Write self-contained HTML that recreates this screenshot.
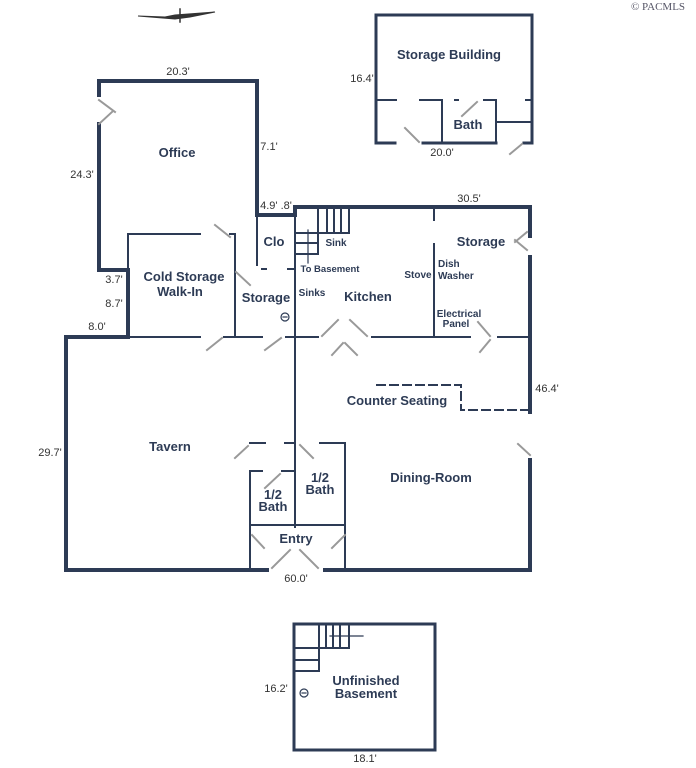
<!DOCTYPE html>
<html><head><meta charset="utf-8"><style>
html,body{margin:0;padding:0;background:#fff;}
svg{display:block;}
text{font-family:"Liberation Sans",Arial,sans-serif;fill:#2d3b55;font-weight:bold;}
.d{font-weight:normal;font-size:11px;fill:#333;}
</style></head><body>
<svg width="696" height="768" viewBox="0 0 696 768" xmlns="http://www.w3.org/2000/svg">
<g stroke="#2d3b55" fill="none" stroke-linecap="square">
<path d="M138 16 L165 17 L175 15 L215 12 L190 17 L175 19 Z" fill="#333" stroke="#333" stroke-width="1"/>
<line x1="180" y1="9" x2="180" y2="22" stroke="#333" stroke-width="1.5"/>
<g stroke-width="4">
<polyline points="99,95 99,81 257,81 257,215 295,215 295,207 530,207 530,236"/>
<polyline points="99,124 99,270 128,270 128,337 66,337 66,570 267,570"/>
<polyline points="325,570 530,570 530,460"/>
<line x1="530" y1="257" x2="530" y2="412"/>
</g>
<g stroke-width="2">
<line x1="128" y1="234" x2="128" y2="270"/>
<line x1="128" y1="234" x2="200" y2="234"/>
<line x1="230" y1="234" x2="235" y2="234"/>
<line x1="235" y1="234" x2="235" y2="337"/>
<line x1="257" y1="215" x2="257" y2="265"/>
<line x1="262" y1="269" x2="266" y2="269"/><line x1="288" y1="269" x2="295" y2="269"/>
<line x1="295" y1="215" x2="295" y2="527"/>
<line x1="128" y1="337" x2="200" y2="337"/>
<line x1="224" y1="337" x2="262" y2="337"/>
<line x1="286" y1="337" x2="318" y2="337"/>
<line x1="372" y1="337" x2="470" y2="337"/>
<line x1="498" y1="337" x2="530" y2="337"/>
<line x1="434" y1="244" x2="434" y2="337"/>
<line x1="434" y1="207" x2="434" y2="220"/>
<line x1="318" y1="207" x2="318" y2="254"/>
<line x1="295" y1="233" x2="318" y2="233"/><line x1="295" y1="243" x2="318" y2="243"/><line x1="295" y1="254" x2="318" y2="254"/>
<line x1="318" y1="233" x2="349" y2="233"/>
<line x1="327" y1="207" x2="327" y2="233"/><line x1="334" y1="207" x2="334" y2="233"/><line x1="341" y1="207" x2="341" y2="233"/><line x1="349" y1="207" x2="349" y2="233"/>
<line x1="308" y1="230" x2="308" y2="263" stroke-width="1.2"/>
<line x1="250" y1="443" x2="265" y2="443"/><line x1="285" y1="443" x2="295" y2="443"/>
<line x1="320" y1="443" x2="345" y2="443"/>
<line x1="345" y1="443" x2="345" y2="570"/>
<line x1="250" y1="471" x2="262" y2="471"/><line x1="282" y1="471" x2="295" y2="471"/>
<line x1="250" y1="471" x2="250" y2="570"/>
<line x1="250" y1="525" x2="345" y2="525"/>
</g>
<g stroke-width="2" stroke-dasharray="8,5">
<polyline points="377,385 461,385 461,410 528,410"/>
</g>
<g stroke="#999" stroke-width="2">
<line x1="99" y1="100" x2="115" y2="112"/><line x1="99" y1="124" x2="112" y2="112"/>
<line x1="215" y1="225" x2="230" y2="237"/>
<line x1="236" y1="272" x2="250" y2="285"/>
<line x1="207" y1="350" x2="222" y2="338"/>
<line x1="265" y1="350" x2="281" y2="338"/>
<line x1="322" y1="336" x2="338" y2="320"/><line x1="350" y1="320" x2="367" y2="336"/>
<line x1="332" y1="355" x2="343" y2="343"/><line x1="345" y1="343" x2="357" y2="355"/>
<line x1="515" y1="240" x2="527" y2="250"/><line x1="515" y1="242" x2="527" y2="232"/>
<line x1="478" y1="322" x2="490" y2="336"/><line x1="480" y1="352" x2="490" y2="340"/>
<line x1="518" y1="444" x2="530" y2="455"/>
<line x1="235" y1="458" x2="248" y2="446"/>
<line x1="265" y1="488" x2="280" y2="474"/>
<line x1="300" y1="445" x2="313" y2="458"/>
<line x1="252" y1="535" x2="264" y2="548"/>
<line x1="332" y1="548" x2="345" y2="535"/>
<line x1="272" y1="568" x2="290" y2="550"/><line x1="300" y1="550" x2="318" y2="568"/>
</g>
<g stroke-width="3">
<polyline points="376,100 376,15 532,15 532,143 524,143"/>
<polyline points="376,100 376,143 395,143"/>
<line x1="423" y1="143" x2="496" y2="143"/>
</g>
<g stroke-width="2">
<line x1="376" y1="100" x2="396" y2="100"/><line x1="420" y1="100" x2="442" y2="100"/>
<line x1="442" y1="100" x2="442" y2="143"/>
<line x1="455" y1="100" x2="458" y2="100"/><line x1="484" y1="100" x2="496" y2="100"/>
<line x1="496" y1="100" x2="496" y2="143"/>
<line x1="496" y1="122" x2="532" y2="122"/>
<line x1="526" y1="100" x2="532" y2="100"/>
</g>
<g stroke="#999" stroke-width="2">
<line x1="405" y1="128" x2="419" y2="142"/>
<line x1="462" y1="116" x2="477" y2="102"/>
<line x1="510" y1="154" x2="522" y2="144"/>
</g>
<rect x="294" y="624" width="141" height="126" stroke-width="3"/>
<g stroke-width="2">
<line x1="319" y1="624" x2="319" y2="671"/>
<line x1="294" y1="648" x2="319" y2="648"/><line x1="294" y1="660" x2="319" y2="660"/><line x1="294" y1="671" x2="319" y2="671"/>
<line x1="319" y1="648" x2="349" y2="648"/>
<line x1="326" y1="624" x2="326" y2="648"/><line x1="333" y1="624" x2="333" y2="648"/><line x1="340" y1="624" x2="340" y2="648"/><line x1="349" y1="624" x2="349" y2="648"/>
<line x1="330" y1="636" x2="363" y2="636" stroke-width="1.2"/>
</g>
<circle cx="304" cy="693" r="4" stroke-width="1.2"/><line x1="302" y1="693" x2="306" y2="693" stroke-width="1.2"/>
<circle cx="285" cy="317" r="4" stroke-width="1.2"/><line x1="283" y1="317" x2="287" y2="317" stroke-width="1.2"/>
</g>
<text x="658" y="10" text-anchor="middle" style="font-family:'Liberation Serif',serif;font-size:11px;font-weight:normal;fill:#556">© PACMLS</text>
<text x="449" y="59" text-anchor="middle" font-size="13">Storage Building</text>
<text x="468" y="129" text-anchor="middle" font-size="13">Bath</text>
<text class="d" x="362" y="82" text-anchor="middle">16.4'</text>
<text class="d" x="442" y="156" text-anchor="middle">20.0'</text>
<text class="d" x="178" y="75" text-anchor="middle">20.3'</text>
<text x="177" y="157" text-anchor="middle" font-size="13">Office</text>
<text class="d" x="82" y="178" text-anchor="middle">24.3'</text>
<text class="d" x="269" y="150" text-anchor="middle">7.1'</text>
<text class="d" x="276" y="209" text-anchor="middle">4.9' .8'</text>
<text class="d" x="469" y="202" text-anchor="middle">30.5'</text>
<text x="274" y="246" text-anchor="middle" font-size="13">Clo</text>
<text x="336" y="246" text-anchor="middle" font-size="10">Sink</text>
<text x="330" y="272" text-anchor="middle" font-size="9.5">To Basement</text>
<text x="481" y="246" text-anchor="middle" font-size="13">Storage</text>
<text x="418" y="278" text-anchor="middle" font-size="10">Stove</text>
<text x="438" y="267" font-size="10">Dish</text>
<text x="438" y="279" font-size="10">Washer</text>
<text x="184" y="281" text-anchor="middle" font-size="13">Cold Storage</text>
<text x="180" y="296" text-anchor="middle" font-size="13">Walk-In</text>
<text class="d" x="114" y="283" text-anchor="middle">3.7'</text>
<text class="d" x="114" y="307" text-anchor="middle">8.7'</text>
<text class="d" x="97" y="330" text-anchor="middle">8.0'</text>
<text x="266" y="302" text-anchor="middle" font-size="13">Storage</text>
<text x="312" y="296" text-anchor="middle" font-size="10">Sinks</text>
<text x="368" y="301" text-anchor="middle" font-size="13">Kitchen</text>
<text x="459" y="317" text-anchor="middle" font-size="10">Electrical</text>
<text x="456" y="327" text-anchor="middle" font-size="10">Panel</text>
<text class="d" x="547" y="392" text-anchor="middle">46.4'</text>
<text x="397" y="405" text-anchor="middle" font-size="13">Counter Seating</text>
<text x="170" y="451" text-anchor="middle" font-size="13">Tavern</text>
<text class="d" x="50" y="456" text-anchor="middle">29.7'</text>
<text x="320" y="482" text-anchor="middle" font-size="13">1/2</text>
<text x="320" y="494" text-anchor="middle" font-size="13">Bath</text>
<text x="273" y="499" text-anchor="middle" font-size="13">1/2</text>
<text x="273" y="511" text-anchor="middle" font-size="13">Bath</text>
<text x="431" y="482" text-anchor="middle" font-size="13">Dining-Room</text>
<text x="296" y="543" text-anchor="middle" font-size="13">Entry</text>
<text class="d" x="296" y="582" text-anchor="middle">60.0'</text>
<text x="366" y="685" text-anchor="middle" font-size="13">Unfinished</text>
<text x="366" y="698" text-anchor="middle" font-size="13">Basement</text>
<text class="d" x="276" y="692" text-anchor="middle">16.2'</text>
<text class="d" x="365" y="762" text-anchor="middle">18.1'</text>
</svg>
</body></html>
